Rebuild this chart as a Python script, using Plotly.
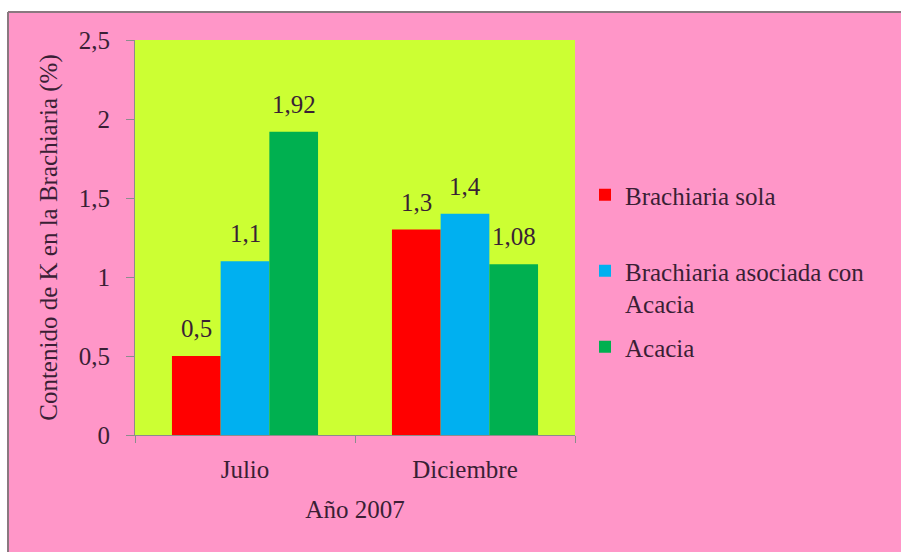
import plotly.graph_objects as go

categories = ["Julio", "Diciembre"]
series_names = ["Brachiaria sola", "Brachiaria asociada con<br>Acacia", "Acacia"]
brachiaria_sola = [0.5, 1.3]
brachiaria_asociada = [1.1, 1.4]
acacia = [1.92, 1.08]
y_ticks = [0, 0.5, 1, 1.5, 2, 2.5]

series_values = [brachiaria_sola, brachiaria_asociada, acacia]
colors = ["#FF0000", "#00B0F0", "#00B050"]
legend_ids = ["legend", "legend2", "legend3"]

FONT = '"Liberation Serif", "Times New Roman", serif'
TXT = "#3a1f35"
PINK = "#FF96C8"
W, H = 901, 552
ML, MR, MT, MB = 135, 326, 40, 117
BARGAP = 0.336
plot_w = W - ML - MR
plot_h = H - MT - MB
cat_w = plot_w / len(categories)
bar_w = cat_w * (1 - BARGAP) / len(series_values)

fig = go.Figure()
for i, (name, vals, col) in enumerate(zip(series_names, series_values, colors)):
    fig.add_trace(go.Bar(
        x=categories, y=vals, name=name, marker=dict(color=col, line=dict(width=0)),
        legend=legend_ids[i], showlegend=True,
    ))
    for c, v in zip(categories, vals):
        fig.add_annotation(
            x=c, y=v, xref="x", yref="y", text=str(v).replace(".", ","),
            showarrow=False, yanchor="bottom", xanchor="center",
            xshift=(i - 1) * bar_w, yshift=12,
            font=dict(family=FONT, size=25, color=TXT),
        )

def px_x(p):
    return (p - ML) / plot_w

def py(pix):
    return (H - MB - pix) / plot_h

# white margins (top and left) with grey card edge
fig.add_shape(type="rect", xref="paper", yref="paper",
              x0=px_x(-5), x1=px_x(W + 5), y0=py(12), y1=py(-5),
              fillcolor="white", line=dict(width=0), layer="below")
fig.add_shape(type="rect", xref="paper", yref="paper",
              x0=px_x(-5), x1=px_x(8), y0=py(H + 5), y1=py(-5),
              fillcolor="white", line=dict(width=0), layer="below")
fig.add_shape(type="line", xref="paper", yref="paper",
              x0=px_x(8), x1=px_x(W + 5), y0=py(12), y1=py(12),
              line=dict(color="#8a7880", width=2), layer="below")
fig.add_shape(type="line", xref="paper", yref="paper",
              x0=px_x(8), x1=px_x(8), y0=py(12), y1=py(H + 5),
              line=dict(color="#8a7880", width=2), layer="below")

legend_common = dict(
    xanchor="left", x=px_x(585), yanchor="middle",
    bgcolor="rgba(0,0,0,0)", font=dict(family=FONT, size=25, color=TXT),
    valign="top", itemclick=False, itemdoubleclick=False,
)

fig.update_layout(
    width=W, height=H,
    margin=dict(l=ML, r=MR, t=MT, b=MB, pad=0),
    paper_bgcolor=PINK, plot_bgcolor="#CCFF33",
    barmode="group", bargap=BARGAP, bargroupgap=0,
    separators=",.",
    showlegend=True,
    font=dict(family=FONT, size=25, color=TXT),
    legend=dict(**legend_common, y=py(195)),
    legend2=dict(**legend_common, y=py(287)),
    legend3=dict(**legend_common, y=py(347)),
    xaxis=dict(
        showline=True, linecolor="#8c8c8c", linewidth=1,
        ticks="outside", tickson="boundaries", ticklen=7, tickcolor="#8c8c8c",
        showgrid=False, ticklabelstandoff=12,
        tickfont=dict(family=FONT, size=25, color=TXT),
        title=dict(text="Año 2007", font=dict(family=FONT, size=25, color=TXT), standoff=18),
    ),
    yaxis=dict(
        range=[0, 2.5], tickvals=y_ticks, showline=True, linecolor="#8c8c8c", linewidth=1,
        ticks="outside", ticklen=8, tickcolor="#8c8c8c", showgrid=False, zeroline=False,
        ticklabelstandoff=11,
        tickfont=dict(family=FONT, size=25, color=TXT),
        title=dict(text="Contenido de K en la Brachiaria (%)",
                   font=dict(family=FONT, size=25, color=TXT), standoff=14),
    ),
)

fig.write_html("out.html", config={"displayModeBar": False},
               post_script="document.body.style.margin='0';document.body.style.overflow='hidden';")
